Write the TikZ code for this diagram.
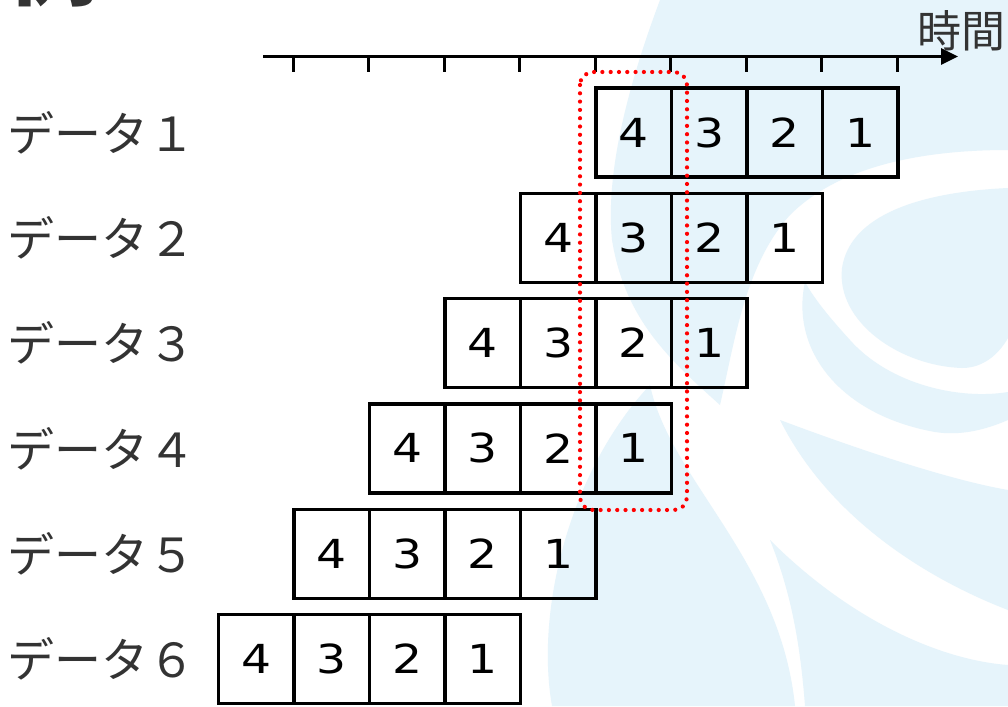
\documentclass[tikz,border=0pt]{standalone}
\usepackage{fontspec}
\newfontfamily\jpfont{Noto Sans CJK JP}
\newfontfamily\numfont[FakeStretch=1.18]{DejaVu Sans}
\usetikzlibrary{arrows.meta}
\definecolor{wm}{HTML}{E6F4FB}
\definecolor{lbl}{HTML}{333333}
\definecolor{dotred}{HTML}{FF0000}
\begin{document}
\begin{tikzpicture}[x=1pt,y=-1pt,
  cell/.style={draw=black, line width=3.2pt, minimum width=75.5pt, minimum height=89pt, inner sep=0pt, font=\numfont\fontsize{40pt}{45pt}\selectfont},
  rowlabel/.style={anchor=west, text=lbl, inner sep=0pt, font=\jpfont\fontsize{47pt}{52pt}\selectfont},
  tickmark/.style={line width=3pt},
  axisline/.style={line width=3.3pt, -{Triangle[length=17pt,width=16pt]}},
  wmark/.style={fill=wm, draw=none},
  focus/.style={draw=dotred, line width=4.2pt, line cap=round, dash pattern=on 0pt off 8.3pt, rounded corners=13pt}]
\fill[white] (0,0) rectangle (1008,706);
\useasboundingbox (0,0) rectangle (1008,706);
% watermark
\fill[wmark] (660,0) -- (1008,0) -- (1008,150) .. controls (900,150) and (830,175) .. (790,215) .. controls (745,265) and (735,340) .. (720,405) .. controls (670,360) and (625,320) .. (612,240) .. controls (605,170) and (630,80) .. (660,0) -- cycle;
\fill[wmark] (1008,188) .. controls (920,192) and (850,215) .. (842,268) .. controls (836,322) and (900,366) .. (962,368) .. controls (985,368) and (1000,352) .. (1008,338) -- cycle;
\fill[wmark] (805,282) .. controls (790,350) and (840,415) .. (935,432) .. controls (960,436) and (985,430) .. (1008,420) -- (1008,392) .. controls (960,400) and (890,385) .. (850,340) .. controls (830,318) and (815,300) .. (805,282) -- cycle;
\fill[wmark] (780,420) .. controls (860,450) and (950,480) .. (1008,490) -- (1008,610) .. controls (930,580) and (830,520) .. (780,420) -- cycle;
\fill[wmark] (770,540) .. controls (850,620) and (940,660) .. (1008,665) -- (1008,706) -- (805,706) .. controls (800,640) and (790,590) .. (770,540) -- cycle;
\fill[wmark] (552,706) .. controls (535,610) and (570,470) .. (650,385) .. controls (670,480) and (780,560) .. (795,706) -- cycle;
% cut-off heading
\node[anchor=base west, inner sep=0pt, text=lbl, font=\jpfont\bfseries\fontsize{90pt}{95pt}\selectfont] (head) at (8,-1) {例};
% time axis
\coordinate (axL) at (263,56.5);
\coordinate (axR) at (958,56.5);
\draw[axisline] (axL) -- (axR);
\foreach \k in {0,...,8} \draw[tickmark] ({293+75.55*\k},56.5) -- ({293+75.55*\k},72);
\node[anchor=west, inner sep=0pt, text=lbl, font=\jpfont\fontsize{44pt}{48pt}\selectfont] (time) at (917,31) {時間};
% cells
\foreach \r in {1,...,6} {
  \foreach \i/\d in {1/4,2/3,3/2,4/1} {
    \node[cell] (c\r-\d) at ({596-75.5*(\r-1)+75.5*(\i-0.5)}, {132.5+105.3*(\r-1)}) {\d};
  }
}
\node[rowlabel] (lab1) at (7,132.5) {データ１};
\node[rowlabel] (lab2) at (7,237.8) {データ２};
\node[rowlabel] (lab3) at (7,343.1) {データ３};
\node[rowlabel] (lab4) at (7,448.4) {データ４};
\node[rowlabel] (lab5) at (7,553.7) {データ５};
\node[rowlabel] (lab6) at (7,659.0) {データ６};
% focus frame
\draw[focus] (580,72) rectangle (687,510);
\end{tikzpicture}
\end{document}
